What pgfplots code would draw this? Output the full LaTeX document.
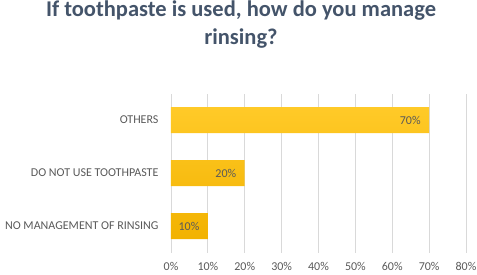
\documentclass[border=0pt]{standalone}
\usepackage{pgfplots}
\pgfplotsset{compat=1.18}
\usepackage{fontspec}
\setmainfont{Carlito}
\definecolor{titlec}{HTML}{44546A}
\definecolor{txt}{HTML}{595959}
\definecolor{gridc}{HTML}{D9D9D9}
\definecolor{barA}{HTML}{FFCA28}
\definecolor{barB}{HTML}{F2B200}
\begin{document}
\begin{tikzpicture}[x=1pt,y=1pt]
\useasboundingbox (0,0) rectangle (477,274);
\node[font=\fontsize{22.5}{26}\selectfont\bfseries, text=titlec, align=center] at (241,263) {If toothpaste is used, how do you manage};
\node[font=\fontsize{22.5}{26}\selectfont\bfseries, text=titlec, align=center] at (241,235) {rinsing?};
\begin{axis}[
  at={(171pt,21.5pt)}, anchor=south west,
  width=295pt, height=159pt, scale only axis,
  xbar, bar width=26pt,
  xmin=0, xmax=80, ymin=-0.5, ymax=2.5,
  xtick={0,10,...,80},
  xticklabel={\pgfmathprintnumber{\tick}\%},
  ytick={0,1,2},
  yticklabels={NO MANAGEMENT OF RINSING, DO NOT USE TOOTHPASTE, OTHERS},
  axis line style={draw=none},
  major tick length=0pt,
  xmajorgrids, grid style={gridc, line width=0.8pt},
  tick label style={text=txt, font=\fontsize{12}{14}\selectfont},
  /pgf/number format/assume math mode=true,
  xticklabel style={yshift=-6pt},
  yticklabel style={xshift=-9pt},
  nodes near coords={\pgfmathprintnumber{\pgfplotspointmeta}\%},
  every node near coord/.append style={anchor=east, xshift=-5pt, text=txt, font=\fontsize{12}{14}\selectfont},
]
\addplot[draw=none, top color=barA, bottom color=barB] coordinates {(10,0) (20,1) (70,2)};
\end{axis}
\end{tikzpicture}
\end{document}
